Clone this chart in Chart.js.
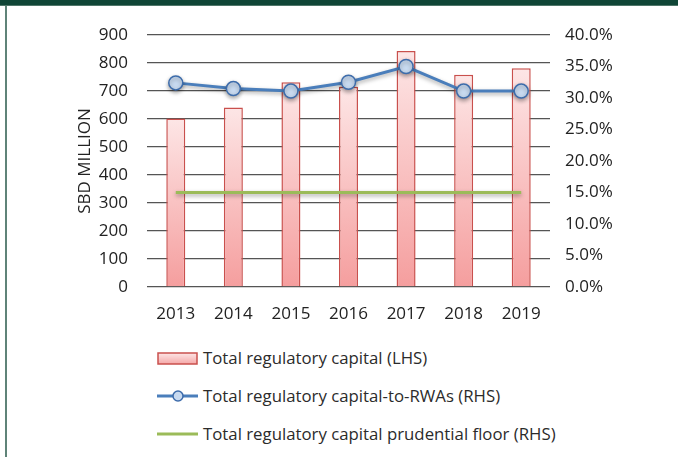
<!DOCTYPE html>
<html>
<head>
<meta charset="utf-8">
<script src="https://cdn.jsdelivr.net/npm/chart.js@4/dist/chart.umd.min.js"></script>
<style>
  html, body { margin: 0; padding: 0; background: #fff; }
  #frame { position: relative; width: 678px; height: 457px; overflow: hidden; background: #fff; }
  #topBar { position: absolute; left: 0; top: 0; width: 678px; height: 5px; background: #0f4536; border-bottom: 1px solid #4f7669; }
  #leftBar { position: absolute; left: 5px; top: 6px; width: 2px; height: 451px; background: #5f8378; }
  #chartBox { position: absolute; left: 0; top: 0; width: 678px; height: 340px; }
  #legend { position: absolute; left: 157px; top: 344px; font-family: "Open Sans", sans-serif; font-size: 16.8px; color: #2b2b2b; }
  .item { position: relative; height: 38px; line-height: 28px; padding-left: 46px; white-space: nowrap; }
  .icon { position: absolute; left: 0; top: 0; width: 41px; height: 28px; }
</style>
</head>
<body>
<div id="frame">
  <div id="topBar"></div>
  <div id="leftBar"></div>
  <div id="chartBox"><canvas id="capitalChart" width="678" height="340"></canvas></div>
  <div id="legend"></div>
</div>
<script>
// values
var years = ["2013", "2014", "2015", "2016", "2017", "2018", "2019"];
var totalCapital = [602, 641, 731, 715, 843, 758, 781];          // SBD million (LHS)
var capitalToRwa = [32.4, 31.5, 31.1, 32.5, 35.0, 31.1, 31.1];   // percent (RHS)
var prudentialFloor = [15, 15, 15, 15, 15, 15, 15];               // percent (RHS)
var seriesNames = ["Total regulatory capital (LHS)", "Total regulatory capital-to-RWAs (RHS)", "Total regulatory capital prudential floor (RHS)"];

var fontFamily = "'Open Sans', sans-serif";
var capitalContext = document.getElementById("capitalChart").getContext("2d");

// each bar gets its own light-to-dark pink fade
function barFill(context) {
    var chart = context.chart;
    var yScale = chart.scales.y;
    if (!yScale || !context.parsed) return "#f8c4c4";
    var top = yScale.getPixelForValue(context.parsed.y);
    var bottom = yScale.getPixelForValue(0);
    if (!isFinite(top) || !isFinite(bottom) || top === bottom) return "#f8c4c4";
    var g = chart.ctx.createLinearGradient(0, top, 0, bottom);
    g.addColorStop(0, "#fde6e6");
    g.addColorStop(1, "#f59e9e");
    return g;
}

// soft drop shadow under the two lines
var lineShadow = {
    id: "lineShadow",
    beforeDatasetDraw: function (chart, args) {
        if (args.meta.type !== "line") return;
        var ctx = chart.ctx;
        ctx.save();
        ctx.shadowColor = "rgba(0,0,0,0.35)";
        ctx.shadowBlur = 4;
        ctx.shadowOffsetY = 2;
    },
    afterDatasetDraw: function (chart, args) {
        if (args.meta.type !== "line") return;
        chart.ctx.restore();
    }
};

var capitalChart = new Chart(capitalContext, {
    type: "bar",
    data: {
        labels: years,
        datasets: [
            {
                type: "line",
                label: seriesNames[2],
                data: prudentialFloor,
                yAxisID: "y1",
                borderColor: "#9bbb59",
                borderWidth: 3,
                pointRadius: 0,
                fill: false,
                order: 1
            },
            {
                type: "line",
                label: seriesNames[1],
                data: capitalToRwa,
                yAxisID: "y1",
                borderColor: "#4a7ebb",
                borderWidth: 3,
                pointRadius: 7,
                pointBackgroundColor: "#c8daf0",
                pointBorderColor: "#3d6cab",
                pointBorderWidth: 1.5,
                fill: false,
                order: 0
            },
            {
                label: seriesNames[0],
                data: totalCapital,
                yAxisID: "y",
                backgroundColor: barFill,
                borderColor: "#c9504d",
                borderWidth: 1.5,
                borderSkipped: "bottom",
                categoryPercentage: 1,
                barPercentage: 0.33,
                order: 2
            }
        ]
    },
    options: {
        responsive: false,
        animation: false,
        layout: { padding: { top: 35, left: 0, right: 0, bottom: 0 } },
        plugins: {
            legend: { display: false },
            tooltip: { enabled: false }
        },
        scales: {
            x: {
                grid: { display: false },
                border: { display: false },
                ticks: { color: "#222", padding: 9, font: { family: fontFamily, size: 17 } },
                afterFit: function (scale) { scale.height = 53; }
            },
            y: {
                position: "left",
                min: 0,
                max: 900,
                ticks: { stepSize: 100, color: "#222", padding: 19, font: { family: fontFamily, size: 17 } },
                grid: { color: "#555", lineWidth: 1.3, drawTicks: false },
                border: { display: false },
                title: {
                    display: true,
                    text: "SBD MILLION",
                    color: "#222",
                    padding: { top: 75, bottom: 0 },
                    font: { family: fontFamily, size: 17 }
                },
                afterFit: function (scale) { scale.width = 147; }
            },
            y1: {
                position: "right",
                min: 0,
                max: 40,
                ticks: {
                    stepSize: 5,
                    color: "#222",
                    padding: 15,
                    font: { family: fontFamily, size: 17 },
                    callback: function (v) { return v.toFixed(1) + "%"; }
                },
                grid: { display: false, drawTicks: false },
                border: { display: false },
                afterFit: function (scale) { scale.width = 128; }
            }
        }
    },
    plugins: [lineShadow]
});

// legend below the chart, one entry per row
function drawIcon(canvas, kind) {
    var c = canvas.getContext("2d");
    if (kind === 0) {
        var g = c.createLinearGradient(0, 9, 0, 20);
        g.addColorStop(0, "#fde6e6");
        g.addColorStop(1, "#f5a8a8");
        c.fillStyle = g;
        c.fillRect(1, 9, 39, 11);
        c.strokeStyle = "#c9504d";
        c.lineWidth = 1.5;
        c.strokeRect(1, 9, 39, 11);
    } else if (kind === 1) {
        c.strokeStyle = "#4a7ebb";
        c.lineWidth = 3;
        c.beginPath(); c.moveTo(0, 14); c.lineTo(41, 14); c.stroke();
        c.beginPath(); c.arc(21, 14, 5, 0, Math.PI * 2);
        c.fillStyle = "#c8daf0"; c.fill();
        c.lineWidth = 1.5; c.strokeStyle = "#3d6cab"; c.stroke();
    } else {
        c.strokeStyle = "#9bbb59";
        c.lineWidth = 3;
        c.beginPath(); c.moveTo(0, 14); c.lineTo(41, 14); c.stroke();
    }
}

var legendBox = document.getElementById("legend");
for (var i = 0; i < seriesNames.length; i++) {
    var row = document.createElement("div");
    row.className = "item";
    var icon = document.createElement("canvas");
    icon.className = "icon";
    icon.width = 41;
    icon.height = 28;
    drawIcon(icon, i);
    row.appendChild(icon);
    row.appendChild(document.createTextNode(seriesNames[i]));
    legendBox.appendChild(row);
}
</script>
</body>
</html>
